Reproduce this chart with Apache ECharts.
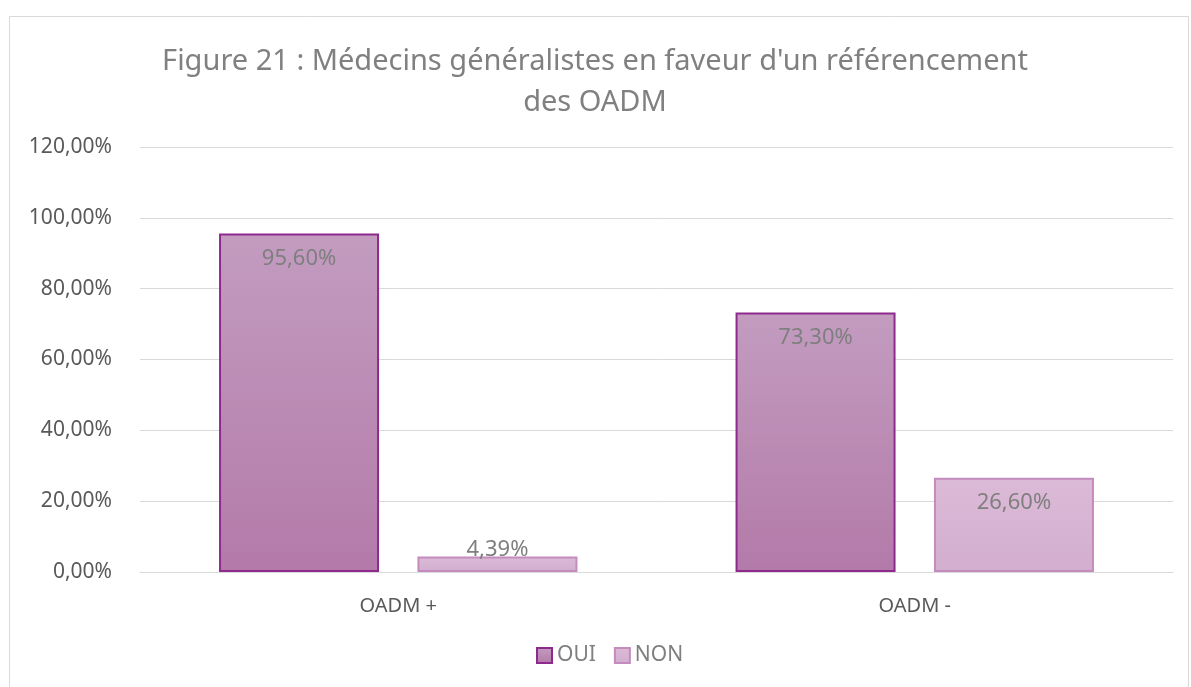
<!DOCTYPE html>
<html>
<head>
<meta charset="utf-8">
<script src="https://cdn.jsdelivr.net/npm/echarts@6/dist/echarts.min.js"></script>
<style>
html,body{margin:0;padding:0;background:#fff;}
#chart{width:1191px;height:687px;}
</style>
</head>
<body>
<div id="chart"></div>
<script>
var categories = ['OADM +', 'OADM -'];
var seriesNames = ['OUI', 'NON'];
var ouiValues = [95.60, 73.30];
var nonValues = [4.39, 26.60];
var yTicks = [0, 20, 40, 60, 80, 100, 120];

var font = 'Noto Sans';
var grey = '#7f7f7f';

function fmt(v, d){
	return v.toFixed(d).replace('.', ',') + '%';
}

var myChart = echarts.init(document.getElementById('chart'));

var option = {
	backgroundColor: '#fff',
	textStyle: {fontFamily: font},
	title: {
		text: "Figure 21 : Médecins généralistes en faveur d'un référencement\ndes OADM",
		left: 590,
		textAlign: 'center',
		top: 36,
		textStyle: {
			fontFamily: font,
			fontSize: 29,
			fontWeight: 'normal',
			color: '#808080',
			lineHeight: 41
		}
	},
	graphic: [{
		type: 'rect',
		shape: {x: 9.5, y: 16.5, width: 1179, height: 680},
		style: {fill: 'none', stroke: '#d9d9d9', lineWidth: 1},
		silent: true
	}],
	legend: {
		data: seriesNames,
		bottom: 16,
		left: 531,
		itemWidth: 15,
		itemHeight: 15,
		itemGap: 18,
		icon: 'rect',
		textStyle: {fontFamily: font, fontSize: 21, color: grey}
	},
	grid: {left: 140, right: 18, top: 147, bottom: 115},
	xAxis: {
		type: 'category',
		data: categories,
		axisLine: {lineStyle: {color: '#d9d9d9'}},
		axisTick: {show: false},
		axisLabel: {fontFamily: font, fontSize: 20, color: '#595959', margin: 24}
	},
	yAxis: {
		type: 'value',
		min: yTicks[0],
		max: yTicks[yTicks.length - 1],
		interval: 20,
		axisLine: {show: false},
		axisTick: {show: false},
		splitLine: {lineStyle: {color: '#d9d9d9'}},
		axisLabel: {
			fontFamily: font, fontSize: 21, color: '#595959', margin: 28,
			formatter: function(v){ return fmt(v, 2); }
		}
	},
	series: [{
		name: seriesNames[0],
		type: 'bar',
		barWidth: 160,
		barGap: '24%',
		data: ouiValues,
		itemStyle: {
			color: new echarts.graphic.LinearGradient(0, 0, 0, 1, [
				{offset: 0, color: '#c39cc0'},
				{offset: 1, color: '#b37aa9'}
			]),
			borderColor: '#8e2a8d',
			borderWidth: 2
		},
		label: {
			show: true,
			position: 'insideTop',
			distance: 14,
			fontFamily: font,
			fontSize: 22,
			color: grey,
			formatter: function(p){ return fmt(p.value, 2); }
		}
	}, {
		name: seriesNames[1],
		type: 'bar',
		barWidth: 160,
		data: [
			{value: nonValues[0], label: {position: 'top', distance: -4}},
			{value: nonValues[1]}
		],
		itemStyle: {
			color: new echarts.graphic.LinearGradient(0, 0, 0, 1, [
				{offset: 0, color: '#dbbad7'},
				{offset: 1, color: '#d3aece'}
			]),
			borderColor: '#c38bbe',
			borderWidth: 2
		},
		label: {
			show: true,
			position: 'insideTop',
			distance: 14,
			fontFamily: font,
			fontSize: 22,
			color: grey,
			formatter: function(p){ return fmt(p.value, 2); }
		}
	}]
};

myChart.setOption(option);
</script>
</body>
</html>
